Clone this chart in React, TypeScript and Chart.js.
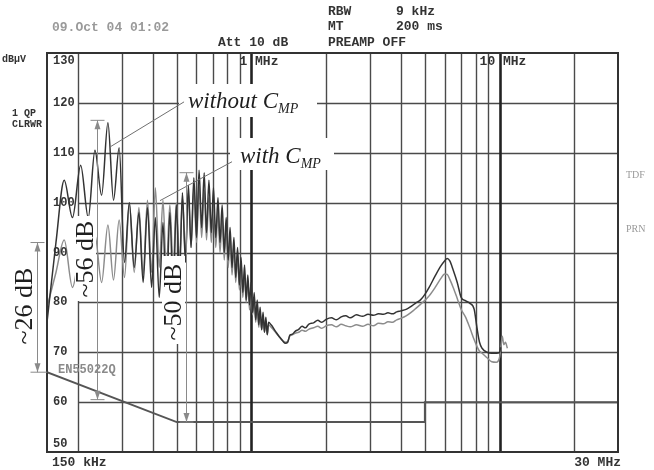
import { useEffect, useRef } from "react";
import { Chart, registerables } from "chart.js";

Chart.register(...registerables);

// Sweep frequencies (kHz) shared by both measured traces
const freqKHz = [
  150, 163, 176, 190, 205, 220, 234, 249, 264, 278, 293, 308, 322, 337, 352, 366, 381, 396, 410, 425,
  440, 454, 469, 484, 498, 513, 527, 542, 557, 571, 586, 601, 615, 630, 645, 659, 674, 689, 703, 718,
  733, 747, 762, 777, 791, 806, 820, 835, 850, 864, 879, 894, 908, 923, 938, 952, 967, 982, 996, 1011,
  1026, 1040, 1055, 1070, 1084, 1099, 1114, 1128, 1143, 1158, 1172,
  1200, 1250, 1300, 1340, 1370, 1400, 1430, 1460, 1500, 1550,
  1600, 1650, 1700, 1780, 1850, 1920, 2000, 2100, 2200, 2300,
  2400, 2500, 2650, 2800, 2950, 3100, 3250, 3400, 3550, 3700,
  3850, 4000, 4200, 4400, 4600, 4800, 5000, 5200, 5500, 5800,
  6000, 6150, 6300, 6500, 6750, 7000, 7300, 7600, 7900, 8100,
  8300, 8500, 8900, 9300, 9700, 10000, 10100, 10250, 10400, 10550,
  10750,
];

// Level without the common-mode capacitor (dBµV)
const withoutCmpDb = [
  76, 92, 104.5, 97, 107.5, 97, 110.5, 101.5, 116, 100.5, 111, 88, 100, 87, 98, 84, 99, 83, 97, 81,
  96, 80, 98, 81, 99.5, 85, 102, 88, 103.5, 91, 105, 93, 106.5, 95, 106, 94, 104.5, 94, 103, 93,
  101, 92, 99.5, 90, 97, 88.5, 95, 87, 93, 85, 91, 83.5, 89, 82, 87.5, 80.5, 85.5, 79.5, 84, 78,
  82, 76.5, 80.5, 75.5, 79, 74.5, 78, 74, 77, 73.5, 76,
  75.5, 74.2, 73, 72.2, 71.8, 72, 73.5, 73.6, 74.2, 74.6,
  75.2, 74.9, 75.6, 75.9, 76.4, 76, 76.6, 76.9, 76.5, 77.1,
  77.3, 76.9, 77.5, 77.2, 77.6, 77.4, 77.7, 77.6, 77.9, 77.7,
  78.1, 78.3, 78.6, 79.2, 79.9, 80.5, 81.6, 83, 85.3, 87.3,
  88.3, 88.8, 88.3, 86.5, 84, 81, 80.3, 79.8, 78.6, 75,
  72, 70.8, 70, 69.8, 69.8, 70, 71, null, null, null,
  null,
];

// Level with the common-mode capacitor (dBµV)
const withCmpDb = [
  79, 86, 92.5, 83, 90, 82.5, 93.5, 84, 95.5, 84.5, 96.5, 85, 100, 86, 99, 85.5, 100.5, 86, 103, 87,
  100.5, 86.5, 99.5, 87, 100, 88, 101, 89.5, 102, 91, 103, 92, 103.5, 93, 102.5, 92.5, 101, 92, 100, 91,
  98.5, 90, 97, 88.5, 95.5, 87, 93.5, 85.5, 91.5, 84, 89.5, 82.5, 88, 81, 86, 80, 84.5, 78.5, 83, 77.5,
  81, 76, 79.5, 75, 78, 74.5, 77, 74, 76, 73.5, 75.5,
  75, 74, 73, 72.3, 72, 72.2, 73.3, 73.5, 73.8, 74,
  74.4, 74.2, 74.6, 74.9, 75.2, 74.8, 75.3, 75.5, 75.1, 75.6,
  75.3, 75.1, 75.5, 75.2, 75.6, 75.3, 75.8, 75.7, 76.1, 76,
  76.5, 76.8, 77.3, 78, 78.8, 79.6, 80.4, 81.3, 83, 84.8,
  85.7, 85.6, 84.6, 83, 80.8, 78.6, 77, 74.8, 72.5, 71.2,
  70.2, 69.8, 68.9, 68.1, 68, 69, 70.5, 73.2, 71.5, 72,
  70.8,
];

// EN 55022 class B quasi-peak limit
const limitFreqKHz = [150, 500, 5000, 5000, 30000];
const limitDb = [66, 56, 56, 60, 60];

// Grid and tick values
const gridFreqKHz = [200, 300, 400, 500, 600, 700, 800, 900, 1000, 2000, 3000, 4000, 5000, 6000, 7000, 8000, 9000, 10000, 20000];
const majorFreqKHz = [1000, 10000];
const gridDb = [60, 70, 80, 90, 100, 110, 120];
const yTickDb = [130, 120, 110, 100, 90, 80, 70, 60, 50];

// Dimension arrows: frequency (kHz), lower and upper level (dB), label
const dimFreqKHz = [136.7, 238.6, 545];
const dimLowDb = [66, 60.5, 56];
const dimHighDb = [92, 116.5, 106];
const dimLabels = ["~26 dB", "~56 dB", "~50 dB"];

// Leader lines to the trace names: [fromKHz, fromDb, toKHz, toDb]
const leaderWithout = [270, 111.2, 535, 120.2];
const leaderWith = [428, 100.4, 835, 108.2];

const MONO = "'Liberation Mono', 'DejaVu Sans Mono', monospace";
const SERIF = "'Liberation Serif', 'DejaVu Serif', serif";

const App = () => {
  const ref = useRef<HTMLCanvasElement>(null);

  useEffect(() => {
    const canvas = ref.current;
    if (!canvas) return;

    const pts = (xs: number[], ys: (number | null)[]) => xs.map((x, i) => ({ x, y: ys[i] }));

    const overlay = {
      id: "analyzerOverlay",
      beforeDraw(chart: any) {
        const { ctx, width, height } = chart;
        ctx.save();
        ctx.fillStyle = "#ffffff";
        ctx.fillRect(0, 0, width, height);
        ctx.restore();
      },
      beforeDatasetsDraw(chart: any) {
        const { ctx, chartArea: a, scales } = chart;
        const sx = scales.x;
        const sy = scales.y;
        const x0 = sx.getPixelForValue(200);
        ctx.save();
        ctx.strokeStyle = "#4a4a4a";
        ctx.lineWidth = 1.4;
        for (const v of gridDb) {
          const y = Math.round(sy.getPixelForValue(v)) + 0.5;
          ctx.beginPath();
          ctx.moveTo(x0, y);
          ctx.lineTo(a.right, y);
          ctx.stroke();
        }
        for (const f of gridFreqKHz) {
          const x = Math.round(sx.getPixelForValue(f)) + 0.5;
          const major = majorFreqKHz.includes(f);
          ctx.lineWidth = major ? 2.6 : 1.4;
          ctx.strokeStyle = major ? "#222" : "#4a4a4a";
          ctx.beginPath();
          ctx.moveTo(x, a.top);
          ctx.lineTo(x, a.bottom);
          ctx.stroke();
        }
        ctx.restore();
      },
      afterDatasetsDraw(chart: any) {
        const { ctx, chartArea: a, scales } = chart;
        const sx = scales.x;
        const sy = scales.y;
        ctx.save();

        // frame
        ctx.strokeStyle = "#333";
        ctx.lineWidth = 2;
        ctx.strokeRect(a.left, a.top, a.right - a.left, a.bottom - a.top);

        // white boxes behind annotations
        ctx.fillStyle = "#ffffff";
        ctx.fillRect(179, 84, 138, 33);
        ctx.fillRect(230, 138, 104, 32);
        ctx.fillRect(75, 216, 21, 85);
        ctx.fillRect(162, 256, 23, 88);
        ctx.fillRect(12, 262, 24, 90);

        // leader lines
        ctx.strokeStyle = "#707070";
        ctx.lineWidth = 1;
        for (const l of [leaderWithout, leaderWith]) {
          ctx.beginPath();
          ctx.moveTo(sx.getPixelForValue(l[0]), sy.getPixelForValue(l[1]));
          ctx.lineTo(sx.getPixelForValue(l[2]), sy.getPixelForValue(l[3]));
          ctx.stroke();
        }

        // dimension arrows
        ctx.strokeStyle = "#8a8a8a";
        ctx.fillStyle = "#8a8a8a";
        ctx.lineWidth = 1;
        dimFreqKHz.forEach((f, i) => {
          const x = Math.round(sx.getPixelForValue(f)) + 0.5;
          const yTop = sy.getPixelForValue(dimHighDb[i]);
          const yBot = sy.getPixelForValue(dimLowDb[i]);
          ctx.beginPath();
          ctx.moveTo(x, yTop);
          ctx.lineTo(x, yBot);
          ctx.moveTo(x - 7, yTop);
          ctx.lineTo(x + 7, yTop);
          ctx.moveTo(x - 7, yBot);
          ctx.lineTo(x + (i === 0 ? 10 : 7), yBot);
          ctx.stroke();
          ctx.beginPath();
          ctx.moveTo(x, yTop);
          ctx.lineTo(x - 3, yTop + 9);
          ctx.lineTo(x + 3, yTop + 9);
          ctx.closePath();
          ctx.fill();
          ctx.beginPath();
          ctx.moveTo(x, yBot);
          ctx.lineTo(x - 3, yBot - 9);
          ctx.lineTo(x + 3, yBot - 9);
          ctx.closePath();
          ctx.fill();
        });

        // rotated dimension labels
        const dimCenters = [
          [25, 306],
          [86, 259],
          [174, 302],
        ];
        ctx.fillStyle = "#1e1e1e";
        ctx.font = `26px ${SERIF}`;
        ctx.textAlign = "center";
        ctx.textBaseline = "middle";
        dimLabels.forEach((t, i) => {
          ctx.save();
          ctx.translate(dimCenters[i][0], dimCenters[i][1]);
          ctx.rotate(-Math.PI / 2);
          ctx.fillText(t, 0, 0);
          ctx.restore();
        });

        // trace names
        ctx.textAlign = "left";
        ctx.textBaseline = "alphabetic";
        const drawName = (prefix: string, x: number, y: number) => {
          ctx.font = `italic 23px ${SERIF}`;
          ctx.fillText(prefix + "C", x, y);
          const w = ctx.measureText(prefix + "C").width;
          ctx.font = `italic 14px ${SERIF}`;
          ctx.fillText("MP", x + w, y + 5);
        };
        drawName("without ", 188, 108);
        drawName("with ", 240, 163);

        // y tick labels inside the plot
        ctx.fillStyle = "#333";
        ctx.font = `bold 12px ${MONO}`;
        ctx.textBaseline = "middle";
        for (const v of yTickDb) {
          let y = sy.getPixelForValue(v);
          if (v === 130) y += 8;
          if (v === 50) y -= 8;
          ctx.fillText(String(v), 53, y);
        }

        // frequency labels
        ctx.font = `bold 13px ${MONO}`;
        ctx.fillText("1 MHz", sx.getPixelForValue(1000) - 12, 62);
        ctx.fillText("10 MHz", sx.getPixelForValue(10000) - 20, 62);
        ctx.fillText("150 kHz", 52, 463);
        ctx.textAlign = "right";
        ctx.fillText("30 MHz", 621, 463);
        ctx.textAlign = "left";

        // header
        ctx.fillText("Att 10 dB", 218, 43);
        ctx.fillText("RBW", 328, 12);
        ctx.fillText("9 kHz", 396, 12);
        ctx.fillText("MT", 328, 27);
        ctx.fillText("200 ms", 396, 27);
        ctx.fillText("PREAMP OFF", 328, 43);
        ctx.fillStyle = "#9a9a9a";
        ctx.fillText("09.Oct 04 01:02", 52, 28);

        // limit line name
        ctx.fillStyle = "#8a8a8a";
        ctx.font = `bold 12px ${MONO}`;
        ctx.fillText("EN55022Q", 58, 370);

        // left side annotations
        ctx.fillStyle = "#333";
        ctx.font = `bold 10px ${MONO}`;
        ctx.fillText("dBµV", 2, 59);
        ctx.fillText("1 QP", 12, 113);
        ctx.fillText("CLRWR", 12, 124);

        // right side trace names
        ctx.fillStyle = "#999";
        ctx.font = `10px ${SERIF}`;
        ctx.fillText("TDF", 626, 175);
        ctx.fillText("PRN", 626, 229);

        ctx.restore();
      },
    };

    const chart = new Chart(canvas, {
      type: "line",
      data: {
        datasets: [
          {
            label: "without CMP",
            data: pts(freqKHz, withoutCmpDb),
            borderColor: "#333333",
            borderWidth: 1.5,
            pointRadius: 0,
            cubicInterpolationMode: "monotone",
            spanGaps: false,
          },
          {
            label: "with CMP",
            data: pts(freqKHz, withCmpDb),
            borderColor: "#8c8c8c",
            borderWidth: 1.5,
            pointRadius: 0,
            cubicInterpolationMode: "monotone",
            spanGaps: false,
          },
          {
            label: "EN55022Q",
            data: pts(limitFreqKHz, limitDb),
            borderColor: "#555555",
            borderWidth: 2,
            pointRadius: 0,
            tension: 0,
          },
        ],
      },
      options: {
        responsive: false,
        animation: false,
        devicePixelRatio: 1,
        layout: { padding: { left: 47, top: 53, right: 36, bottom: 18 } },
        plugins: { legend: { display: false }, tooltip: { enabled: false } },
        scales: {
          x: { type: "logarithmic", min: 150, max: 30000, display: false },
          y: { type: "linear", min: 50, max: 130, display: false },
        },
      },
      plugins: [overlay],
    });

    return () => chart.destroy();
  }, []);

  return (
    <div style={{ position: "fixed", left: 0, top: 0, width: 654, height: 470, background: "#fff" }}>
      <canvas ref={ref} width={654} height={470} style={{ display: "block" }} />
    </div>
  );
};

export default App;
